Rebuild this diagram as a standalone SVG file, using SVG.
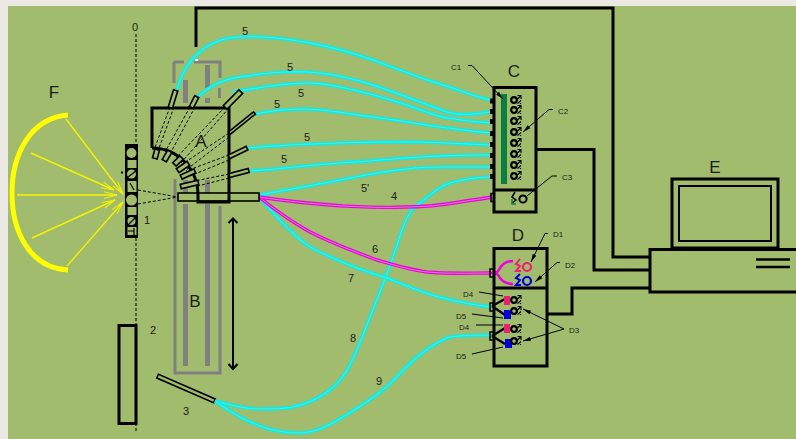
<svg xmlns="http://www.w3.org/2000/svg" xmlns:xlink="http://www.w3.org/1999/xlink" width="796" height="439" viewBox="0 0 796 439">
<style>
text{font-family:"Liberation Sans",Arial,sans-serif;fill:#1c1c1c;text-anchor:middle}
.big{font-size:17px}.mid{font-size:11px}.sm{font-size:8px}
.k{fill:none;stroke:#000;stroke-width:3}
.k2{fill:none;stroke:#000;stroke-width:2}
.lead{fill:none;stroke:#000;stroke-width:1}
.dash{fill:none;stroke:#000;stroke-width:1;stroke-dasharray:3 2}
.gray{fill:#808080;stroke:none}
.t{fill:#A0BC6C;stroke:#000;stroke-width:1.6}
.cy{fill:none;stroke:#00F0F0;stroke-width:3.6}
.cyc{fill:none;stroke:#90E0C0;stroke-width:.7}
.mg{fill:none;stroke:#F000E0;stroke-width:3.4}
.mgc{fill:none;stroke:#D890C8;stroke-width:.9}
.y{fill:none;stroke:#F4F400;stroke-width:1.4;marker-end:url(#ya)}
.port{fill:#000}
</style>
<defs>
<marker id="ya" markerUnits="userSpaceOnUse" markerWidth="14" markerHeight="8" refX="13" refY="4" orient="auto"><path d="M0 .8L13 4L0 7.2" fill="none" stroke="#F4F400" stroke-width="1"/></marker>
<marker id="la" markerUnits="userSpaceOnUse" markerWidth="9" markerHeight="6" refX="8" refY="3" orient="auto"><path d="M0 1L8 3L0 5z" fill="#000"/></marker>
<marker id="ba" markerUnits="userSpaceOnUse" markerWidth="8" markerHeight="12" refX="6" refY="6" orient="auto"><path d="M1 1.500L6 6L1 10.500" fill="none" stroke="#000" stroke-width="2"/></marker>
<g id="det"><circle cx="0" cy="0" r="2.800" fill="none" stroke="#000" stroke-width="2.200"/><path d="M3.500 -4.500H7V-1M7 -4.500L3 -.5M3.500 3.500L7 .5M5 1.500L7 4" fill="none" stroke="#000" stroke-width="1.100"/></g>
<path id="f1" d="M177 90C184 62 205 38 240 37C280 35 330 45 373 60C400 70 420 78 440 84C460 90 475 97 491 100"/>
<path id="f2" d="M198 97C210 85 225 79 240 77C265 73 285 71 307 72C330 73 350 78 373 85C400 94 425 104 447 112C460 116 475 114 491 112"/>
<path id="f3" d="M233 92C250 89 285 83 307 83C320 83 330 85 340 87C365 92 385 98 407 105C420 110 433 115 447 118C462 120 475 122 491 123"/>
<path id="f4" d="M255 114C270 111 285 109 307 109C330 110 350 114 373 117C395 120 420 124 440 127C458 129 475 132 491 133"/>
<path id="f5" d="M248 148C280 145 310 144 340 143C365 142 385 142 407 142C435 142 465 144 491 145"/>
<path id="f6" d="M250 171C280 169 310 165 340 163C375 161 410 157 440 156C458 155 475 155 491 155"/>
<path id="f5p" d="M260 195C285 190 315 185 340 180C365 175 385 171 407 169C420 167 435 167 447 167C462 167 475 167 491 167"/>
<path id="f8" d="M215 401C230 405 245 409 260 409C272 409 283 409 293 407C315 402 335 390 346 372C355 357 363 335 370 317C378 298 386 276 393 257C398 243 403 223 410 213C414 206 417 205 420 203C430 195 440 186 450 183C465 179 478 177 491 177"/>
<path id="f9" d="M215 401C228 410 240 418 253 423C268 430 285 433 300 433C315 433 330 425 343 417C358 408 370 400 383 390C395 380 405 367 417 357C427 349 438 341 450 337C463 335 478 335 491 335"/>
<path id="f7" d="M259 197C275 215 292 235 310 247C335 260 360 270 387 278C405 285 425 294 443 298C458 302 475 305 491 307"/>
<path id="f6m" d="M259 197C275 210 292 222 310 232C332 243 355 252 377 260C394 265 410 270 427 272C448 274 470 273 491 273"/>
<path id="f4m" d="M259 197C285 201 315 204 343 206C365 207 385 208 403 207C425 207 443 205 460 202C472 200 482 199 491 197"/>
<path id="loop" d="M491 273C497 273 498 272 500 268C503 263 508 261 513 261M491 273C497 273 498 274 500 278C503 282 508 284 513 284"/>
</defs>

<rect width="796" height="439" fill="#ECE8E3"/>
<rect x="8" y="6" width="788" height="433" fill="#A0BC6C"/>

<g id="node-B">
<path d="M174 62V83M174 62H184M194 62H220V78" fill="none" stroke="#808080" stroke-width="3"/>
<rect class="gray" x="218" y="88" width="3" height="10"/>
<rect class="gray" x="183" y="80" width="5" height="23"/>
<rect class="gray" x="205" y="65" width="5" height="23"/>
<rect class="gray" x="205" y="98" width="5" height="5"/>
<path d="M175 179V373H220V206" fill="none" stroke="#808080" stroke-width="3"/>
<rect class="gray" x="183" y="204" width="5" height="162"/>
<rect class="gray" x="205" y="204" width="5" height="162"/>
<rect class="gray" x="205" y="180" width="5" height="13"/>
<rect class="gray" x="183" y="180" width="5" height="13"/>
<rect x="195" y="59" width="3" height="2" fill="#fff"/>
<text class="big" x="195" y="307">B</text>
</g>

<g id="axis">
<path class="dash" d="M136 34V145M136 238V432"/>
<text class="mid" x="135" y="31">0</text>
</g>

<g id="node-F">
<path d="M68 115C30 118 12 155 12 193C12 232 30 268 68 270" fill="none" stroke="#FFFF00" stroke-width="5"/>
<path class="y" d="M66 119L123 194"/>
<path class="y" d="M31 153L114 190"/>
<path class="y" d="M17 195L117 195"/>
<path class="y" d="M32 238L115 200"/>
<path class="y" d="M67 266L123 202"/>
<text class="big" x="54" y="98">F</text>
</g>

<g id="node-1">
<rect x="125" y="144" width="13" height="94" fill="#000"/>
<g fill="#A0BC6C">
<circle cx="131.500" cy="153" r="5"/>
<rect x="127.500" y="160" width="9" height="8"/>
<circle cx="131.500" cy="174" r="4.500"/>
<rect x="127.500" y="181" width="9" height="11"/>
<circle cx="131.500" cy="200" r="5.500"/>
<rect x="127.500" y="207" width="9" height="8"/>
<circle cx="131.500" cy="221" r="4"/>
<rect x="127.500" y="227" width="9" height="8"/>
</g>
<path d="M128 177L136 171M129 224L135 218M130 183L134 190M134 228V236M128 231H134" stroke="#000" stroke-width="1.200"/>
<rect x="121" y="171.500" width="2" height="2" fill="#000"/>
<text class="mid" x="147" y="224">1</text>
</g>

<g id="node-2">
<rect class="k" x="119" y="325.500" width="17" height="98"/>
<text class="mid" x="153" y="334">2</text>
</g>

<g id="node-3">
<rect class="t" x="-31" y="-2" width="62" height="4" transform="translate(186,388.500) rotate(23.500)"/>
<text class="mid" x="186" y="415">3</text>
</g>

<g id="connectors">
<use href="#f1" class="cy"/><use href="#f1" class="cyc"/>
<use href="#f2" class="cy"/><use href="#f2" class="cyc"/>
<use href="#f3" class="cy"/><use href="#f3" class="cyc"/>
<use href="#f4" class="cy"/><use href="#f4" class="cyc"/>
<use href="#f5" class="cy"/><use href="#f5" class="cyc"/>
<use href="#f6" class="cy"/><use href="#f6" class="cyc"/>
<use href="#f5p" class="cy"/><use href="#f5p" class="cyc"/>
<use href="#f8" class="cy"/><use href="#f8" class="cyc"/>
<use href="#f9" class="cy"/><use href="#f9" class="cyc"/>
<use href="#f7" class="cy"/><use href="#f7" class="cyc"/>
<use href="#f6m" class="mg"/><use href="#f6m" class="mgc"/>
<use href="#f4m" class="mg"/><use href="#f4m" class="mgc"/>
<use href="#loop" class="mg" style="stroke-width:2.600"/>
<path class="k" d="M196 47V8H613V257H649"/>
<path class="k" d="M537 149.500H594V270H649"/>
<path class="k" d="M546 314H572V288H649"/>
<path d="M233 219V369" fill="none" stroke="#000" stroke-width="2" marker-end="url(#ba)"/>
<path d="M228.500 223L233 218.500L237.500 223" fill="none" stroke="#000" stroke-width="2"/>
</g>

<g id="node-A">
<path class="dash" d="M170 107L154 150M174 107L158 151M190 107L165 152M195 107L170 154M225 107L176 158M229 108L180 164M229 133L181 165M229 137L186 170M229 155L186 171M229 160L190 176M229 174L190 182M229 178L198 186M138 190L178 197M138 204L178 197M198 197H229"/>
<rect class="t" x="178" y="193" width="81" height="8"/>
<path class="k" d="M152 148V108H229V202H198V195A46 47 0 0 0 152 148"/>
<rect class="t" x="-9" y="-2.200" width="18" height="4.400" transform="translate(173,99) rotate(-73)"/>
<rect class="t" x="-6" y="-2.200" width="12" height="4.400" transform="translate(194,102) rotate(-63)"/>
<rect class="t" x="-11" y="-2.600" width="22" height="5.200" transform="translate(233,99.500) rotate(-45)"/>
<rect class="t" x="-16" y="-1.500" width="32" height="3" transform="translate(242,123) rotate(-39)"/>
<rect class="t" x="-10" y="-2" width="20" height="4" transform="translate(238,152.500) rotate(-26)"/>
<rect class="t" x="-10" y="-2" width="20" height="4" transform="translate(239,173) rotate(-15)"/>
<rect class="t" x="-4.500" y="-2.400" width="9" height="4.800" transform="translate(156,154) rotate(-75)"/>
<rect class="t" x="-5.500" y="-2.400" width="11" height="4.800" transform="translate(167,156) rotate(-60)"/>
<rect class="t" x="-5" y="-2.400" width="10" height="4.800" transform="translate(178,161) rotate(-45)"/>
<rect class="t" x="-6.500" y="-2.400" width="13" height="4.800" transform="translate(183,167) rotate(-35)"/>
<rect class="t" x="-7.500" y="-2.200" width="15" height="4.400" transform="translate(188,174) rotate(-25)"/>
<rect class="t" x="-9" y="-2.200" width="18" height="4.400" transform="translate(189.500,184.500) rotate(-13)"/>
<text class="big" x="201" y="147">A</text>
</g>

<g id="node-C">
<rect x="501" y="94" width="6" height="90" fill="#0A8040"/>
<path class="k" d="M494 87.500H536V212H494ZM494 190H536"/>
<g class="port">
<rect x="490" y="98.500" width="4" height="5"/><rect x="490" y="109" width="4" height="5"/><rect x="490" y="119" width="4" height="5"/><rect x="490" y="131" width="4" height="5"/><rect x="490" y="142" width="4" height="5"/><rect x="490" y="153" width="4" height="5"/><rect x="490" y="164" width="4" height="5"/><rect x="490" y="174" width="4" height="5"/>
</g>
<rect x="491" y="193.500" width="3" height="8" fill="none" stroke="#000" stroke-width="1.500"/>
<use href="#det" x="514" y="100"/><use href="#det" x="514" y="110"/><use href="#det" x="514" y="121"/><use href="#det" x="514" y="132"/><use href="#det" x="514" y="143"/><use href="#det" x="514" y="154"/><use href="#det" x="514" y="165"/><use href="#det" x="514" y="176"/>
<circle cx="523" cy="199" r="3.600" fill="none" stroke="#000" stroke-width="2"/>
<path d="M515 192L512 197L516 200L512 203" fill="none" stroke="#000" stroke-width="1.500"/>
<path d="M512 199V204H516" fill="none" stroke="#0A8040" stroke-width="1.500"/>
<path class="lead" d="M468 65.500H472L503 99" marker-end="url(#la)"/>
<path class="lead" d="M553 109.500H549L523 132" marker-end="url(#la)"/>
<path class="lead" d="M557 176H552L527 196"/>
<text class="big" x="514" y="77">C</text>
<text class="sm" x="456" y="69.500">C1</text>
<text class="sm" x="563" y="114">C2</text>
<text class="sm" x="567" y="180">C3</text>
</g>

<g id="node-D">
<path class="k" d="M494 248.500H547V366H494ZM494 288H547"/>
<rect x="490" y="269" width="4" height="8" fill="none" stroke="#000" stroke-width="1.500"/>
<rect x="490" y="303" width="4" height="8" fill="none" stroke="#000" stroke-width="1.500"/>
<rect x="490" y="332" width="4" height="8" fill="none" stroke="#000" stroke-width="1.500"/>
<circle cx="527" cy="267" r="4" fill="none" stroke="#F02070" stroke-width="2.200"/>
<circle cx="527" cy="281" r="4" fill="none" stroke="#0000E0" stroke-width="2.200"/>
<path d="M520 259L516 264L520 266L516 271H521" fill="none" stroke="#F02070" stroke-width="2"/>
<path d="M520 274L516 278L520 280L516 285H521" fill="none" stroke="#0000E0" stroke-width="2"/>
<path d="M492 306L505 299M492 306L505 315M492 336L505 328M492 336L505 344" fill="none" stroke="#000" stroke-width="2.400"/>
<rect x="504" y="296" width="6" height="9" fill="#F02070"/>
<rect x="504" y="310" width="7" height="9" fill="#0000E0"/>
<rect x="504" y="324" width="6" height="9" fill="#F02070"/>
<rect x="505" y="339" width="7" height="9" fill="#0000E0"/>
<use href="#det" x="514" y="300"/><use href="#det" x="514" y="311"/><use href="#det" x="514" y="329"/><use href="#det" x="514" y="341"/>
<path class="lead" d="M548 233.500H545L531 262" marker-end="url(#la)"/>
<path class="lead" d="M560 262.500H557L535 282" marker-end="url(#la)"/>
<path class="lead" d="M564 329L523 309" marker-end="url(#la)"/>
<path class="lead" d="M564 329L523 341" marker-end="url(#la)"/>
<path class="lead" d="M479 292L503 296M472 314L503 318M476 325H503M472 354L503 347"/>
<text class="big" x="518" y="241">D</text>
<text class="sm" x="558" y="237">D1</text>
<text class="sm" x="570" y="268">D2</text>
<text class="sm" x="574" y="333">D3</text>
<text class="sm" x="468" y="297">D4</text>
<text class="sm" x="461" y="319">D5</text>
<text class="sm" x="464" y="330">D4</text>
<text class="sm" x="461" y="359">D5</text>
</g>

<g id="node-E">
<rect class="k" x="672" y="179" width="106" height="69"/>
<rect class="k2" x="679" y="186" width="92" height="55"/>
<path class="k" d="M797 249.500H650V292H797"/>
<path d="M756 259.500H790M756 267H790" stroke="#000" stroke-width="2.500"/>
<text class="big" x="715" y="173">E</text>
</g>

<g id="labels">
<text class="mid" x="245" y="35">5</text>
<text class="mid" x="290" y="71">5</text>
<text class="mid" x="301" y="97">5</text>
<text class="mid" x="277" y="108">5</text>
<text class="mid" x="307" y="141">5</text>
<text class="mid" x="284" y="163">5</text>
<text class="mid" x="365" y="192">5'</text>
<text class="mid" x="394" y="200">4</text>
<text class="mid" x="375" y="253">6</text>
<text class="mid" x="351" y="282">7</text>
<text class="mid" x="353" y="342">8</text>
<text class="mid" x="379" y="385">9</text>
</g>
</svg>
